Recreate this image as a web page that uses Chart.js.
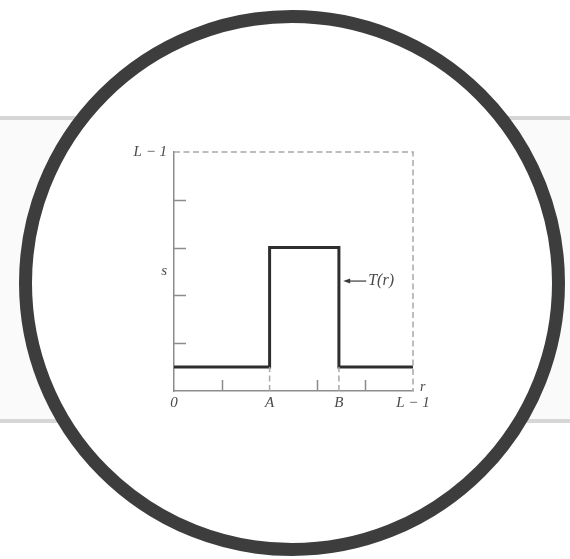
<!DOCTYPE html>
<html>
<head>
<meta charset="utf-8">
<title>Intensity-level slicing</title>
<script src="https://cdn.jsdelivr.net/npm/chart.js@4.4.1/dist/chart.umd.min.js"></script>
<style>
  html, body { margin: 0; padding: 0; background: #fff; }
  .stage { position: relative; width: 570px; height: 559px; overflow: hidden; }
  .band {
    position: absolute; left: 0; right: 0; top: 116px; height: 299px;
    border-top: 4px solid #d6d6d6; border-bottom: 4px solid #d6d6d6;
    background: #fafafa;
  }
  .ring {
    position: absolute; left: 19px; top: 10px; width: 546px; height: 546px;
    box-sizing: border-box; border: 13px solid #3d3d3d; border-radius: 50%;
    background: #fff;
  }
  canvas { position: absolute; left: 0; top: 0; }
</style>
</head>
<body>
<div class="stage">
  <div class="band"></div>
  <div class="ring"></div>
  <canvas id="chart" width="570" height="559"></canvas>
</div>
<script>
// ── Data ──────────────────────────────────────
const stepR = [0, 2, 2, 3.45, 3.45, 5];
const stepT = [0.5, 0.5, 3, 3, 0.5, 0.5];

const xTickValues = [0, 2, 3.45, 5];
const xTickLabels = ['0', 'A', 'B', 'L − 1'];
const yTickValues = [2.5, 5];
const yTickLabels = ['s', 'L − 1'];

const xMinorTicks = [1, 3, 4];
const yMinorTicks = [1, 2, 3, 4];

// dashed frame (top + right edge) and drop lines at A and B
const frameR = [0, 5, 5];
const frameT = [5, 5, 0];
const dropA = { r: [2, 2], t: [0, 0.5] };
const dropB = { r: [3.45, 3.45], t: [0, 0.5] };

const toPoints = (xs, ys) => xs.map((x, i) => ({ x, y: ys[i] }));

const SERIF = "'Liberation Serif', 'DejaVu Serif', serif";
const TEXT = '#4a4a4a';
const DASH = '#a8a8a8';

// ── Extra marks: minor ticks, axis letter, T(r) pointer ──
const decorations = {
  id: 'decorations',
  afterDatasetsDraw(chart) {
    const { ctx, chartArea } = chart;
    const xs = chart.scales.x, ys = chart.scales.y;
    ctx.save();
    ctx.strokeStyle = '#8c8c8c';
    ctx.lineWidth = 1.5;
    ctx.beginPath();
    yMinorTicks.forEach(v => {
      const py = Math.round(ys.getPixelForValue(v)) + 0.5;
      ctx.moveTo(chartArea.left, py);
      ctx.lineTo(chartArea.left + 12, py);
    });
    xMinorTicks.forEach(v => {
      const px = Math.round(xs.getPixelForValue(v)) + 0.5;
      ctx.moveTo(px, chartArea.bottom);
      ctx.lineTo(px, chartArea.bottom - 11);
    });
    ctx.stroke();

    // axis letter
    ctx.fillStyle = TEXT;
    ctx.font = `italic 14px ${SERIF}`;
    ctx.textAlign = 'left';
    ctx.textBaseline = 'middle';
    ctx.fillText('r', chartArea.right + 7, chartArea.bottom - 4);

    // pointer to the transformation curve
    const tipX = xs.getPixelForValue(3.54);
    const tipY = ys.getPixelForValue(2.3);
    ctx.strokeStyle = '#3a3a3a';
    ctx.lineWidth = 1.2;
    ctx.beginPath();
    ctx.moveTo(tipX + 4, tipY);
    ctx.lineTo(tipX + 23, tipY);
    ctx.stroke();
    ctx.fillStyle = '#3a3a3a';
    ctx.beginPath();
    ctx.moveTo(tipX, tipY);
    ctx.lineTo(tipX + 7, tipY - 2.5);
    ctx.lineTo(tipX + 7, tipY + 2.5);
    ctx.closePath();
    ctx.fill();
    ctx.fillStyle = TEXT;
    ctx.font = `italic 16px ${SERIF}`;
    ctx.fillText('T(r)', tipX + 25, tipY);
    ctx.restore();
  }
};

// ── Chart ─────────────────────────────────────
const tickFont = { family: SERIF, style: 'italic', size: 15 };

new Chart(document.getElementById('chart').getContext('2d'), {
  type: 'line',
  data: {
    datasets: [
      {
        data: toPoints(frameR, frameT),
        borderColor: DASH, borderWidth: 1.5, borderDash: [6, 3.5],
        pointRadius: 0, clip: 6
      },
      {
        data: toPoints(dropA.r, dropA.t),
        borderColor: DASH, borderWidth: 1.5, borderDash: [6, 3.5],
        pointRadius: 0, clip: 6
      },
      {
        data: toPoints(dropB.r, dropB.t),
        borderColor: DASH, borderWidth: 1.5, borderDash: [6, 3.5],
        pointRadius: 0, clip: 6
      },
      {
        data: toPoints(stepR, stepT),
        borderColor: '#2e2e2e', borderWidth: 3, borderJoinStyle: 'miter',
        pointRadius: 0, tension: 0, clip: 6
      }
    ]
  },
  options: {
    responsive: false,
    animation: false,
    devicePixelRatio: 1,
    layout: { padding: { left: 0, top: 152, right: 157, bottom: 0 } },
    plugins: { legend: { display: false }, tooltip: { enabled: false } },
    scales: {
      x: {
        type: 'linear', min: 0, max: 5,
        grid: { display: false, drawTicks: false },
        border: { color: '#8c8c8c', width: 1.5 },
        afterBuildTicks: s => { s.ticks = xTickValues.map(v => ({ value: v })); },
        afterFit: s => { s.height = 168; },
        ticks: {
          autoSkip: false, maxRotation: 0, padding: 3,
          color: TEXT, font: tickFont,
          callback: v => xTickLabels[xTickValues.indexOf(v)]
        }
      },
      y: {
        type: 'linear', min: 0, max: 5,
        grid: { display: false, drawTicks: false },
        border: { color: '#8c8c8c', width: 1.5 },
        afterBuildTicks: s => { s.ticks = yTickValues.map(v => ({ value: v })); },
        afterFit: s => { s.width = 174; },
        ticks: {
          autoSkip: false, padding: 7,
          color: TEXT, font: tickFont,
          callback: v => yTickLabels[yTickValues.indexOf(v)]
        }
      }
    }
  },
  plugins: [decorations]
});
</script>
</body>
</html>
